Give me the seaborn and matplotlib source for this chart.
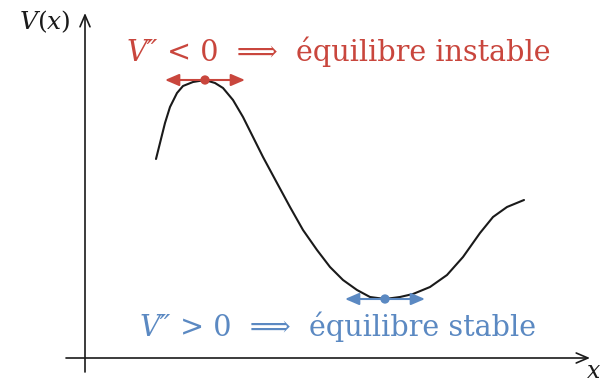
import numpy as np
import pandas as pd
import matplotlib
matplotlib.use("Agg")
import matplotlib.pyplot as plt
import seaborn as sns

# curve samples (x to the right, V upward)
x_vals = [71, 75, 80, 85, 92, 98, 108, 120, 130, 138, 148, 158, 168, 178, 192,
          205, 218, 232, 245, 258, 272, 285, 300, 315, 328, 345, 362, 378, 395,
          408, 422, 439]
v_vals = [199, 215, 235, 251, 265, 272, 276, 278, 275, 270, 258, 241, 221, 201,
          175, 151, 128, 108, 91, 78, 68, 61, 59, 61, 64, 71, 83, 101, 125,
          141, 151, 158]

unstable_parts = ["V\u2033", " < 0  \u27F9  équilibre instable"]
stable_parts = ["V\u2033", " > 0  \u27F9  équilibre stable"]
axis_y_label = r"$V(x)$"
axis_x_label = "x"

RED = "#c9463d"
BLUE = "#5b89c2"
INK = "#1a1a1a"

sns.set_theme(style="white")
FAMILY = ["DejaVu Serif", "DejaVu Sans"]
plt.rcParams["font.family"] = FAMILY
plt.rcParams["mathtext.fontset"] = "dejavuserif"

fig = plt.figure(figsize=(6.05, 3.83), dpi=100)
ax = fig.add_axes([0, 0, 1, 1])
ax.set_xlim(-85, 520)
ax.set_ylim(-25, 358)
ax.axis("off")

df = pd.DataFrame({"x": x_vals, "V": v_vals})
sns.lineplot(data=df, x="x", y="V", ax=ax, color=INK, linewidth=1.5,
             sort=False, legend=False)
for ln in ax.lines:
    ln.set_solid_joinstyle("round")

# axes with arrows
ax.annotate("", xy=(0, 345), xytext=(0, -14),
            arrowprops=dict(arrowstyle="->,head_length=0.7,head_width=0.3",
                            color=INK, lw=1.2, shrinkA=0, shrinkB=0))
ax.annotate("", xy=(505, 0), xytext=(-19, 0),
            arrowprops=dict(arrowstyle="->,head_length=0.7,head_width=0.3",
                            color=INK, lw=1.2, shrinkA=0, shrinkB=0))
ax.text(-40, 336, axis_y_label, fontsize=18, ha="center", va="center", color=INK)
ax.text(509, -14, axis_x_label, fontsize=17, fontstyle="italic", ha="center",
        va="center", color=INK)

# extrema
i_max = int(np.argmax(v_vals))
i_min = int(np.argmin(v_vals))
for i, col in ((i_max, RED), (i_min, BLUE)):
    xe, ve = x_vals[i], v_vals[i]
    ax.annotate("", xy=(xe + 40, ve), xytext=(xe - 40, ve),
                arrowprops=dict(arrowstyle="<|-|>,head_length=0.7,head_width=0.3",
                                color=col, lw=1.5, shrinkA=0, shrinkB=0))
    sns.scatterplot(x=[xe], y=[ve], ax=ax, color=col, s=45, edgecolor="none",
                    legend=False, zorder=5)


def chain(x, y, parts, color, size):
    prev = ax.text(x, y, parts[0], fontsize=size, color=color, ha="left",
                   va="center", fontstyle="italic", family=FAMILY)
    for s in parts[1:]:
        prev = ax.annotate(s, xy=(1, 0), xycoords=prev, ha="left", va="bottom",
                           fontsize=size, color=color, family=FAMILY)


chain(42, 305, unstable_parts, RED, 20.6)
chain(55, 30, stable_parts, BLUE, 20.6)

fig.savefig("out.png", dpi=100)
